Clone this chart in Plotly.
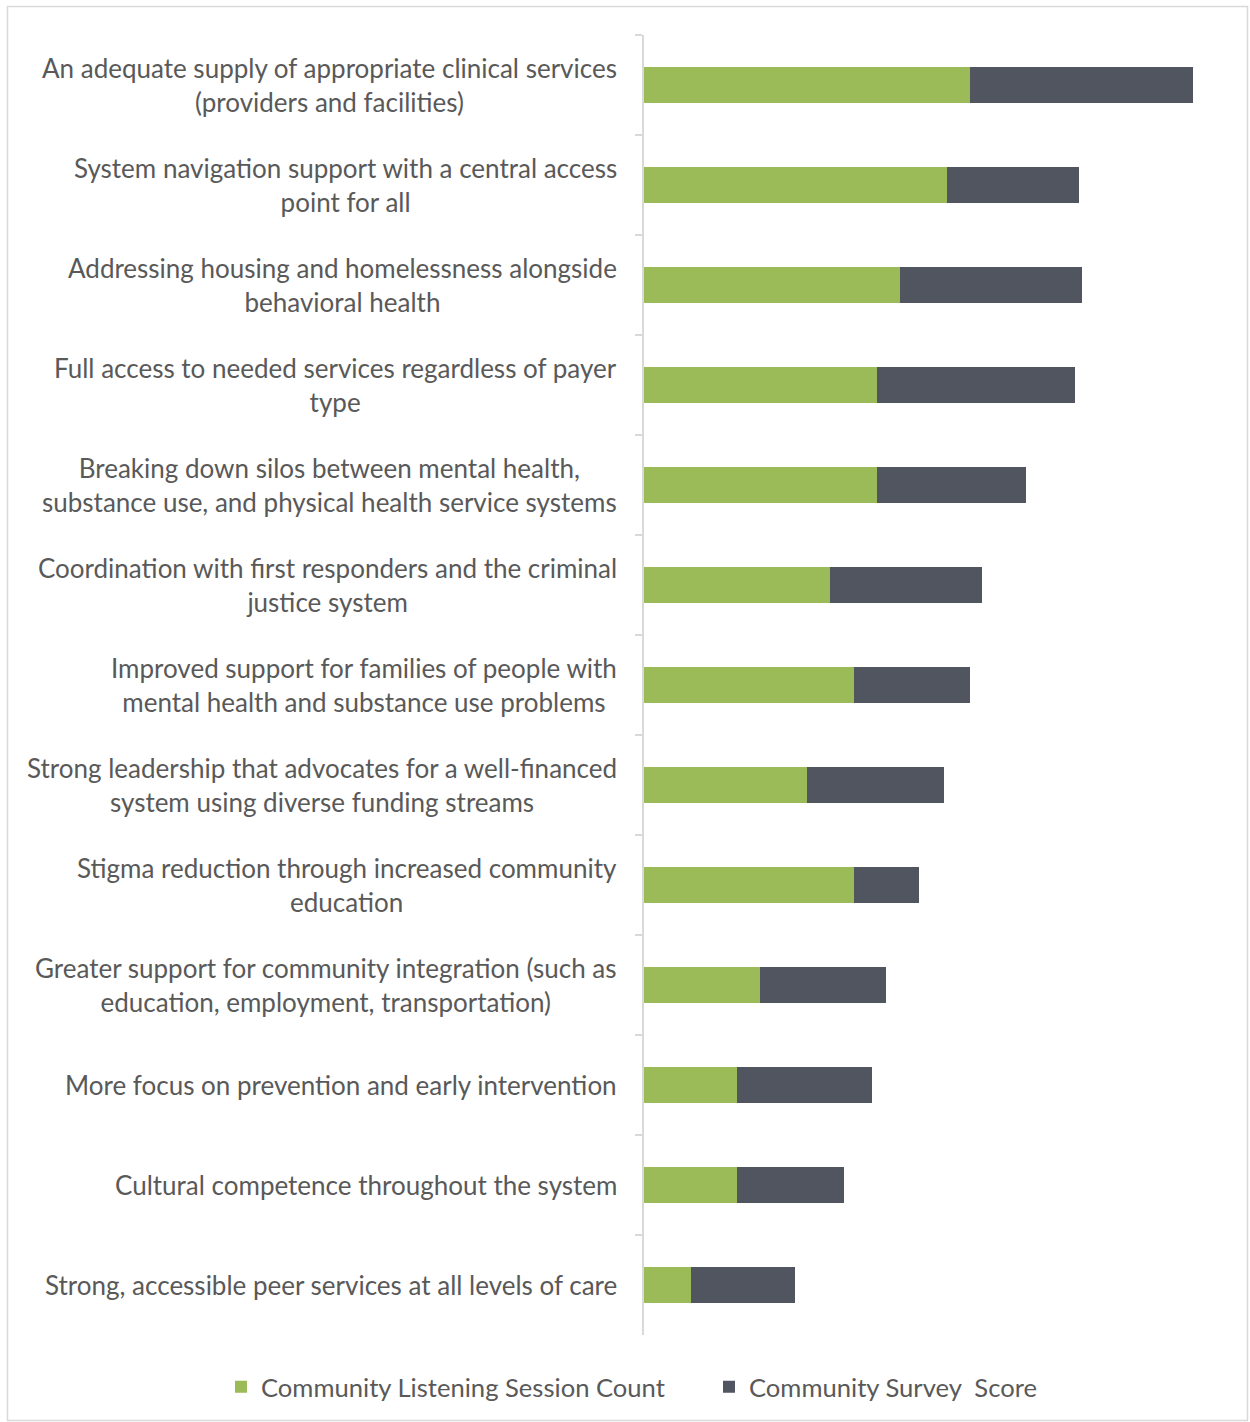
import plotly.graph_objects as go

# Priority areas, top to bottom; <br> marks where each label wraps
priorities = [
    "An adequate supply of appropriate clinical services<br>(providers and facilities)",
    "System navigation support with a central access<br>point for all",
    "Addressing housing and homelessness alongside<br>behavioral health",
    "Full access to needed services regardless of payer<br>type",
    "Breaking down silos between mental health,<br>substance use, and physical health service systems",
    "Coordination with first responders and the criminal<br>justice system",
    "Improved support for families of people with<br>mental health and substance use problems",
    "Strong leadership that advocates for a well-financed<br>system using diverse funding streams",
    "Stigma reduction through increased community<br>education",
    "Greater support for community integration (such as<br>education, employment, transportation)",
    "More focus on prevention and early intervention",
    "Cultural competence throughout the system",
    "Strong, accessible peer services at all levels of care",
]

listening_session_count = [14, 13, 11, 10, 10, 8, 9, 7, 9, 5, 4, 4, 2]
survey_score = [9.6, 5.7, 7.8, 8.5, 6.4, 6.5, 5.0, 5.9, 2.8, 5.4, 5.8, 4.6, 4.5]

series_names = ["Community Listening Session Count", "Community Survey  Score"]

GREEN = "#9BBB59"
SLATE = "#50555F"
TEXT = "#595959"
RULE = "#D9D9D9"
FONT = "Lato"
W, H = 1250, 1422

fig = go.Figure()
fig.add_trace(go.Bar(
    y=priorities, x=listening_session_count, orientation="h",
    name=series_names[0], marker=dict(color=GREEN, line=dict(width=0)),
    legend="legend",
))
fig.add_trace(go.Bar(
    y=priorities, x=survey_score, orientation="h",
    name=series_names[1], marker=dict(color=SLATE, line=dict(width=0)),
    legend="legend2",
))

# Category labels: centred lines, right edge just left of the axis
annotations = [
    dict(
        text=label, x=0, xref="paper", y=label, yref="y",
        xanchor="right", yanchor="middle", xshift=-25, align="center",
        showarrow=False, font=dict(family=FONT, size=26, color=TEXT),
    )
    for label in priorities
]

# One single-entry legend per series, side by side along the bottom
legend_style = dict(
    orientation="h", xref="container", yref="container",
    xanchor="left", y=1 - 1387 / H, yanchor="middle",
    bgcolor="rgba(0,0,0,0)",
    font=dict(family=FONT, size=25.6, color=TEXT),
)

fig.update_layout(
    width=W, height=H,
    margin=dict(l=644, r=24, t=35, b=87, autoexpand=False),
    paper_bgcolor="white", plot_bgcolor="white",
    barmode="stack", bargap=0.64,
    font=dict(family=FONT, size=25, color=TEXT),
    showlegend=True,
    legend=dict(x=221 / W, **legend_style),
    legend2=dict(x=709 / W, **legend_style),
    annotations=annotations,
    shapes=[dict(
        type="rect", xref="paper", yref="paper",
        x0=(7.5 - 644) / 582, x1=(1247.5 - 644) / 582,
        y0=(1335 - 1420.5) / 1300, y1=(1335 - 6.5) / 1300,
        line=dict(color=RULE, width=1.5), fillcolor="rgba(0,0,0,0)", layer="below",
    )],
)

fig.update_xaxes(range=[0, 25], visible=False, fixedrange=True)
fig.update_yaxes(
    autorange="reversed", showticklabels=False,
    showline=True, linecolor=RULE, linewidth=2,
    ticks="outside", ticklen=7, tickwidth=2, tickcolor=RULE,
    tickson="boundaries", showgrid=False, zeroline=False,
)

fig.write_html("out.html")
